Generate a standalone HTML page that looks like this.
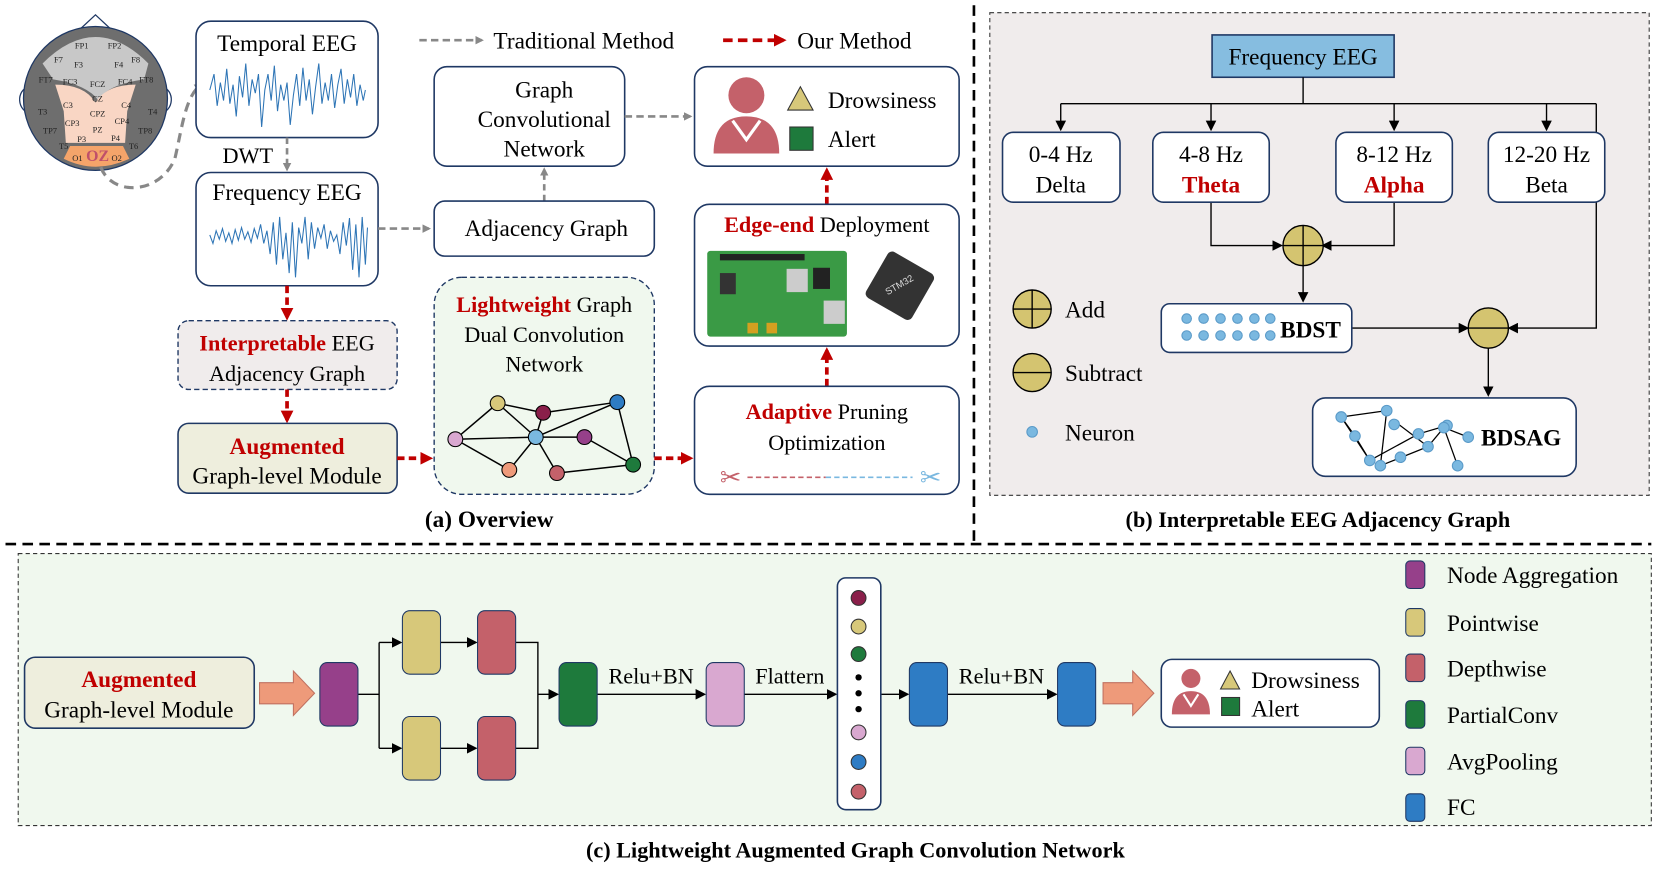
<!DOCTYPE html>
<html><head><meta charset="utf-8"><style>
html,body{margin:0;padding:0;background:#fff;}
svg{display:block;font-family:"Liberation Serif",serif;}
</style></head><body>
<svg width="1660" height="870" viewBox="0 0 1568 822" xmlns="http://www.w3.org/2000/svg">
<defs>
<marker id="ag" markerWidth="8" markerHeight="8" refX="6" refY="4" orient="auto" markerUnits="userSpaceOnUse"><path d="M0,0 L8,4 L0,8 z" fill="#888"/></marker>
<marker id="ar" markerWidth="12" markerHeight="12" refX="9" refY="6" orient="auto" markerUnits="userSpaceOnUse"><path d="M0,0 L12,6 L0,12 z" fill="#c00000"/></marker>
<marker id="ak" markerWidth="10" markerHeight="10" refX="8" refY="5" orient="auto" markerUnits="userSpaceOnUse"><path d="M0,0 L10,5 L0,10 z" fill="#000"/></marker>
</defs>
<rect width="1568" height="822" fill="#fff"/>

<!-- HEAD -->
<g stroke="#1f3864" stroke-width="1.2">
<path d="M75,28 L90,14 L105,28" fill="#fff"/>
<path d="M27,82 C15,85 15,105 30,108" fill="none"/>
<path d="M153,82 C165,85 165,105 150,108" fill="none"/>
<circle cx="90" cy="93" r="68" fill="#6e6e6e"/>
<path d="M40,60 Q90,10 140,60 L136,75 Q100,80 93,95 Q82,80 50,75 Z" fill="#c8c8c8" stroke="none"/>
<path d="M52,80 Q80,80 90,97 Q100,80 128,80 L120,105 L118,135 L62,135 L60,105 Z" fill="#f9d6c4" stroke="none"/>
<path d="M66,138 L116,138 L122,150 Q90,165 60,150 Z" fill="#f4a46a" stroke="none"/>
</g>
<g font-size="8" fill="#222" text-anchor="middle">
<text x="77" y="46">FP1</text><text x="108" y="46">FP2</text>
<text x="55" y="59">F7</text><text x="74" y="64">F3</text><text x="112" y="64">F4</text><text x="128" y="59">F8</text>
<text x="43" y="78">FT7</text><text x="66" y="80">FC3</text><text x="92" y="82">FCZ</text><text x="118" y="80">FC4</text><text x="138" y="78">FT8</text>
<text x="92" y="96">CZ</text><text x="64" y="102">C3</text><text x="119" y="102">C4</text>
<text x="40" y="108">T3</text><text x="92" y="110">CPZ</text><text x="144" y="108">T4</text>
<text x="68" y="119">CP3</text><text x="115" y="117">CP4</text><text x="92" y="125">PZ</text>
<text x="47" y="126">TP7</text><text x="137" y="126">TP8</text>
<text x="77" y="134">P3</text><text x="109" y="133">P4</text>
<text x="60" y="141">T5</text><text x="126" y="141">T6</text>
<text x="73" y="152">O1</text><text x="110" y="152">O2</text>
</g>
<text x="92" y="152" font-size="15" font-weight="bold" fill="#c0506a" text-anchor="middle">OZ</text>
<path d="M95,158 C105,185 150,185 165,150 C172,120 175,90 190,80" fill="none" stroke="#888" stroke-width="3" stroke-dasharray="9,6" marker-end="url(#ag)"/>

<!-- Legend -->
<line x1="396" y1="38" x2="455" y2="38" stroke="#888" stroke-width="2.5" stroke-dasharray="7,4" marker-end="url(#ag)"/>
<text x="466" y="46" font-size="22">Traditional Method</text>
<line x1="683" y1="38" x2="740" y2="38" stroke="#c00000" stroke-width="3.5" stroke-dasharray="9,5" marker-end="url(#ar)"/>
<text x="753" y="46" font-size="22">Our Method</text>

<!-- Temporal EEG -->
<rect x="185" y="20" width="172" height="110" rx="14" fill="#fff" stroke="#1f3864" stroke-width="1.5"/>
<text x="271" y="48" font-size="22" text-anchor="middle">Temporal EEG</text>
<polyline fill="none" stroke="#2e75b6" stroke-width="1" points="198,85 202,70 205,100 208,78 211,95 214,65 217,98 220,80 223,110 226,72 229,92 232,60 235,100 238,75 241,88 244,70 247,120 250,85 253,70 256,95 259,62 262,105 265,80 268,95 271,78 274,118 277,90 280,70 283,100 286,64 289,95 292,75 295,108 298,82 301,60 304,98 307,78 310,95 313,70 316,102 319,80 322,65 325,98 328,75 331,92 334,70 337,100 340,80 343,95 345,85"/>
<text x="210" y="154" font-size="21">DWT</text>
<line x1="271" y1="130" x2="271" y2="160" stroke="#888" stroke-width="2.5" stroke-dasharray="6,4" marker-end="url(#ag)"/>

<!-- Frequency EEG -->
<rect x="185" y="163" width="172" height="107" rx="14" fill="#fff" stroke="#1f3864" stroke-width="1.5"/>
<text x="271" y="189" font-size="22" text-anchor="middle">Frequency EEG</text>
<polyline fill="none" stroke="#2e75b6" stroke-width="1" points="198,222 201,230 204,218 207,226 210,216 213,228 216,220 219,230 222,217 225,227 228,215 231,226 234,219 237,229 240,216 243,225 246,212 249,230 252,218 255,240 258,210 261,250 264,205 267,245 270,220 273,258 276,210 279,262 282,215 285,230 288,205 291,245 294,210 297,235 300,215 303,225 306,212 309,235 312,218 315,228 318,222 321,240 324,210 327,232 330,206 333,255 336,212 339,262 342,205 345,250 347,215"/>
<line x1="357" y1="216" x2="405" y2="216" stroke="#888" stroke-width="2.5" stroke-dasharray="7,4" marker-end="url(#ag)"/>
<line x1="271" y1="270" x2="271" y2="300" stroke="#c00000" stroke-width="3.5" stroke-dasharray="7,4" marker-end="url(#ar)"/>

<!-- Interpretable -->
<rect x="168" y="303" width="207" height="65" rx="10" fill="#f0ecec" stroke="#1f3864" stroke-width="1.3" stroke-dasharray="5,3"/>
<text x="271" y="331" font-size="21" text-anchor="middle"><tspan fill="#c00000" font-weight="bold">Interpretable</tspan> EEG</text>
<text x="271" y="360" font-size="21" text-anchor="middle">Adjacency Graph</text>
<line x1="271" y1="368" x2="271" y2="397" stroke="#c00000" stroke-width="3.5" stroke-dasharray="7,4" marker-end="url(#ar)"/>

<!-- Augmented -->
<rect x="168" y="400" width="207" height="66" rx="10" fill="#eeeedd" stroke="#1f3864" stroke-width="1.5"/>
<text x="271" y="429" font-size="22" text-anchor="middle" fill="#c00000" font-weight="bold">Augmented</text>
<text x="271" y="457" font-size="22" text-anchor="middle">Graph-level Module</text>
<line x1="375" y1="433" x2="406" y2="433" stroke="#c00000" stroke-width="3.5" stroke-dasharray="7,4" marker-end="url(#ar)"/>

<!-- GCN -->
<rect x="410" y="63" width="180" height="94" rx="12" fill="#fff" stroke="#1f3864" stroke-width="1.5"/>
<text x="514" y="92" font-size="22" text-anchor="middle">Graph</text>
<text x="514" y="120" font-size="22" text-anchor="middle">Convolutional</text>
<text x="514" y="148" font-size="22" text-anchor="middle">Network</text>
<line x1="590" y1="110" x2="652" y2="110" stroke="#888" stroke-width="2.5" stroke-dasharray="7,4" marker-end="url(#ag)"/>
<line x1="514" y1="190" x2="514" y2="160" stroke="#888" stroke-width="2.5" stroke-dasharray="6,4" marker-end="url(#ag)"/>

<!-- Adjacency graph -->
<rect x="410" y="190" width="208" height="52" rx="10" fill="#fff" stroke="#1f3864" stroke-width="1.5"/>
<text x="516" y="223" font-size="22" text-anchor="middle">Adjacency Graph</text>

<!-- Lightweight -->
<rect x="410" y="262" width="208" height="205" rx="26" fill="#f0f8ee" stroke="#1f3864" stroke-width="1.3" stroke-dasharray="5,3"/>
<text x="514" y="295" font-size="21" text-anchor="middle"><tspan fill="#c00000" font-weight="bold">Lightweight</tspan> Graph</text>
<text x="514" y="323" font-size="21" text-anchor="middle">Dual Convolution</text>
<text x="514" y="351" font-size="21" text-anchor="middle">Network</text>
<g stroke="#000" stroke-width="1.4">
<line x1="470" y1="381" x2="430" y2="415"/><line x1="470" y1="381" x2="506" y2="413"/><line x1="470" y1="381" x2="513" y2="390"/>
<line x1="513" y1="390" x2="583" y2="380"/><line x1="513" y1="390" x2="506" y2="413"/>
<line x1="430" y1="415" x2="506" y2="413"/><line x1="430" y1="415" x2="481" y2="444"/>
<line x1="506" y1="413" x2="583" y2="380"/><line x1="506" y1="413" x2="552" y2="413"/><line x1="506" y1="413" x2="481" y2="444"/><line x1="506" y1="413" x2="526" y2="447"/>
<line x1="552" y1="413" x2="598" y2="439"/><line x1="583" y1="380" x2="598" y2="439"/><line x1="526" y1="447" x2="598" y2="439"/>
</g>
<g stroke="#000" stroke-width="1">
<circle cx="470" cy="381" r="7" fill="#d7c87a"/><circle cx="513" cy="390" r="7" fill="#8a1f4a"/><circle cx="583" cy="380" r="7" fill="#2e7cc4"/>
<circle cx="430" cy="415" r="7" fill="#d9a8d0"/><circle cx="506" cy="413" r="7" fill="#7ab8e0"/><circle cx="552" cy="413" r="7" fill="#96408a"/>
<circle cx="481" cy="444" r="7" fill="#ee9a7a"/><circle cx="526" cy="447" r="7" fill="#c4616a"/><circle cx="598" cy="439" r="7" fill="#1e7a3c"/>
</g>
<line x1="618" y1="433" x2="652" y2="433" stroke="#c00000" stroke-width="3.5" stroke-dasharray="7,4" marker-end="url(#ar)"/>

<!-- Output -->
<rect x="656" y="63" width="250" height="94" rx="12" fill="#fff" stroke="#1f3864" stroke-width="1.5"/>
<circle cx="705" cy="90" r="17" fill="#c4616a"/>
<path d="M674,145 Q674,110 705,110 Q736,110 736,145 Z" fill="#c4616a"/>
<path d="M692,114 L705,132 L718,114" fill="none" stroke="#fff" stroke-width="3"/>
<path d="M744,104 L756,82 L768,104 Z" fill="#d7c87a" stroke="#333"/>
<text x="782" y="102" font-size="22">Drowsiness</text>
<rect x="746" y="120" width="22" height="22" fill="#1e7a3c" stroke="#333"/>
<text x="782" y="139" font-size="22">Alert</text>
<line x1="781" y1="193" x2="781" y2="161" stroke="#c00000" stroke-width="3.5" stroke-dasharray="7,4" marker-end="url(#ar)"/>

<!-- Edge-end -->
<rect x="656" y="193" width="250" height="134" rx="14" fill="#fff" stroke="#1f3864" stroke-width="1.5"/>
<text x="781" y="219" font-size="21" text-anchor="middle"><tspan fill="#c00000" font-weight="bold">Edge-end</tspan> Deployment</text>
<rect x="668" y="237" width="132" height="81" rx="3" fill="#3a9a45"/>
<rect x="680" y="240" width="80" height="6" fill="#222"/>
<rect x="743" y="254" width="20" height="22" fill="#ccc"/><rect x="768" y="253" width="16" height="20" fill="#222"/>
<rect x="778" y="284" width="20" height="22" fill="#ccc"/><rect x="680" y="258" width="15" height="20" fill="#333"/>
<rect x="706" y="305" width="10" height="10" fill="#d4a020"/><rect x="724" y="305" width="10" height="10" fill="#d4a020"/>
<rect x="825" y="245" width="50" height="50" rx="5" fill="#333" transform="rotate(30 850 270)"/>
<text x="850" y="272" font-size="9" fill="#ddd" font-family="Liberation Sans,sans-serif" text-anchor="middle" transform="rotate(-30 850 270)">STM32</text>
<line x1="781" y1="365" x2="781" y2="331" stroke="#c00000" stroke-width="3.5" stroke-dasharray="7,4" marker-end="url(#ar)"/>

<!-- Pruning -->
<rect x="656" y="365" width="250" height="102" rx="14" fill="#fff" stroke="#1f3864" stroke-width="1.5"/>
<text x="781" y="396" font-size="21" text-anchor="middle"><tspan fill="#c00000" font-weight="bold">Adaptive</tspan> Pruning</text>
<text x="781" y="425" font-size="21" text-anchor="middle">Optimization</text>
<text x="690" y="459" font-size="24" fill="#c4616a" text-anchor="middle">✂</text>
<text x="879" y="459" font-size="24" fill="#7ab8e0" text-anchor="middle">✂</text>
<line x1="706" y1="451" x2="780" y2="451" stroke="#c4616a" stroke-width="1.5" stroke-dasharray="5,3"/>
<line x1="780" y1="451" x2="862" y2="451" stroke="#7ab8e0" stroke-width="1.5" stroke-dasharray="5,3"/>

<text x="462" y="498" font-size="22" font-weight="bold" text-anchor="middle">(a) Overview</text>

<!-- dividers -->
<line x1="920" y1="5" x2="920" y2="512" stroke="#000" stroke-width="2.5" stroke-dasharray="10,6"/>
<line x1="5" y1="514" x2="1560" y2="514" stroke="#000" stroke-width="2.5" stroke-dasharray="10,6"/>

<!-- Panel b -->
<rect x="935" y="12" width="623" height="456" fill="#f0ecec" stroke="#333" stroke-width="1" stroke-dasharray="4,3"/>
<rect x="1145" y="33" width="172" height="40" fill="#86bde0" stroke="#1f3864" stroke-width="1.5"/>
<text x="1231" y="61" font-size="22" text-anchor="middle">Frequency EEG</text>
<g stroke="#000" stroke-width="1.3" fill="none">
<path d="M1231,73 V98 M1002,98 H1508"/>
<line x1="1002" y1="98" x2="1002" y2="122" marker-end="url(#ak)"/>
<line x1="1144" y1="98" x2="1144" y2="122" marker-end="url(#ak)"/>
<line x1="1317" y1="98" x2="1317" y2="122" marker-end="url(#ak)"/>
<line x1="1461" y1="98" x2="1461" y2="122" marker-end="url(#ak)"/>
<path d="M1144,191 V232 H1210" marker-end="url(#ak)"/>
<path d="M1317,191 V232 H1250" marker-end="url(#ak)"/>
<line x1="1231" y1="251" x2="1231" y2="284" marker-end="url(#ak)"/>
<line x1="1277" y1="310" x2="1386" y2="310" marker-end="url(#ak)"/>
<path d="M1508,98 V310 H1426" marker-end="url(#ak)"/>
<line x1="1406" y1="329" x2="1406" y2="373" marker-end="url(#ak)"/>
</g>
<g stroke="#1f3864" stroke-width="1.5" fill="#fff">
<rect x="947" y="125" width="111" height="66" rx="10"/>
<rect x="1089" y="125" width="110" height="66" rx="10"/>
<rect x="1262" y="125" width="110" height="66" rx="10"/>
<rect x="1406" y="125" width="110" height="66" rx="10"/>
</g>
<g font-size="22" text-anchor="middle">
<text x="1002" y="153">0-4 Hz</text><text x="1002" y="182">Delta</text>
<text x="1144" y="153">4-8 Hz</text><text x="1144" y="182" fill="#c00000" font-weight="bold">Theta</text>
<text x="1317" y="153">8-12 Hz</text><text x="1317" y="182" fill="#c00000" font-weight="bold">Alpha</text>
<text x="1461" y="153">12-20 Hz</text><text x="1461" y="182">Beta</text>
</g>
<g stroke="#000" stroke-width="1.3" fill="#d4c470">
<circle cx="1231" cy="232" r="19"/><path d="M1212,232 H1250 M1231,213 V251" fill="none"/>
<circle cx="1406" cy="310" r="19"/><path d="M1387,310 H1425" fill="none"/>
<circle cx="975" cy="292" r="18"/><path d="M957,292 H993 M975,274 V310" fill="none"/>
<circle cx="975" cy="352" r="18"/><path d="M957,352 H993" fill="none"/>
</g>
<circle cx="975" cy="408" r="5" fill="#7ab8e0" stroke="#5a9ac8"/>
<text x="1006" y="300" font-size="22">Add</text>
<text x="1006" y="360" font-size="22">Subtract</text>
<text x="1006" y="416" font-size="22">Neuron</text>
<rect x="1097" y="287" width="180" height="46" rx="8" fill="#fff" stroke="#1f3864" stroke-width="1.5"/>
<g fill="#7ab8e0" stroke="#5a9ac8">
<circle cx="1121" cy="301" r="4.5"/><circle cx="1137" cy="301" r="4.5"/><circle cx="1153" cy="301" r="4.5"/><circle cx="1169" cy="301" r="4.5"/><circle cx="1185" cy="301" r="4.5"/><circle cx="1200" cy="301" r="4.5"/>
<circle cx="1121" cy="317" r="4.5"/><circle cx="1137" cy="317" r="4.5"/><circle cx="1153" cy="317" r="4.5"/><circle cx="1169" cy="317" r="4.5"/><circle cx="1185" cy="317" r="4.5"/><circle cx="1200" cy="317" r="4.5"/>
</g>
<text x="1238" y="319" font-size="22" font-weight="bold" text-anchor="middle">BDST</text>
<rect x="1240" y="376" width="249" height="74" rx="12" fill="#fff" stroke="#1f3864" stroke-width="1.5"/>
<g stroke="#000" stroke-width="1.2">
<line x1="1267" y1="394" x2="1310" y2="388"/><line x1="1267" y1="394" x2="1280" y2="412"/><line x1="1267" y1="394" x2="1294" y2="435"/>
<line x1="1310" y1="388" x2="1304" y2="440"/><line x1="1294" y1="435" x2="1340" y2="410"/><line x1="1340" y1="410" x2="1367" y2="402"/>
<line x1="1320" y1="400" x2="1349" y2="422"/><line x1="1349" y1="422" x2="1364" y2="404"/><line x1="1364" y1="404" x2="1377" y2="440"/><line x1="1364" y1="404" x2="1387" y2="413"/><line x1="1304" y1="440" x2="1349" y2="422"/><line x1="1280" y1="412" x2="1294" y2="435"/>
</g>
<g fill="#7ab8e0" stroke="#5a9ac8">
<circle cx="1267" cy="394" r="5"/><circle cx="1310" cy="388" r="5"/><circle cx="1280" cy="412" r="5"/><circle cx="1294" cy="435" r="5"/>
<circle cx="1317" cy="401" r="5"/><circle cx="1340" cy="410" r="5"/><circle cx="1367" cy="402" r="5"/><circle cx="1349" cy="422" r="5"/>
<circle cx="1364" cy="404" r="5"/><circle cx="1387" cy="413" r="5"/><circle cx="1304" cy="440" r="5"/><circle cx="1377" cy="440" r="5"/><circle cx="1323" cy="432" r="5"/>
</g>
<text x="1437" y="421" font-size="22" font-weight="bold" text-anchor="middle">BDSAG</text>
<text x="1245" y="498" font-size="21" font-weight="bold" text-anchor="middle">(b) Interpretable EEG Adjacency Graph</text>

<!-- Panel c -->
<rect x="17" y="523" width="1543" height="257" fill="#f0f8ee" stroke="#333" stroke-width="1" stroke-dasharray="4,3"/>
<rect x="23" y="621" width="217" height="67" rx="10" fill="#eeeedd" stroke="#1f3864" stroke-width="1.5"/>
<text x="131" y="649" font-size="22" text-anchor="middle" fill="#c00000" font-weight="bold">Augmented</text>
<text x="131" y="678" font-size="22" text-anchor="middle">Graph-level Module</text>
<path d="M245,645 H277 V634 L297,655 L277,676 V665 H245 Z" fill="#ee9a7a" stroke="#c07060"/>
<path d="M1042,645 H1070 V634 L1090,655 L1070,676 V665 H1042 Z" fill="#ee9a7a" stroke="#c07060"/>
<g stroke="#000" stroke-width="1.3" fill="none">
<path d="M338,656 H358 M358,607 V707"/>
<line x1="358" y1="607" x2="378" y2="607" marker-end="url(#ak)"/>
<line x1="358" y1="707" x2="378" y2="707" marker-end="url(#ak)"/>
<line x1="416" y1="607" x2="449" y2="607" marker-end="url(#ak)"/>
<line x1="416" y1="707" x2="449" y2="707" marker-end="url(#ak)"/>
<path d="M487,607 H508 V707 H487" />
<line x1="508" y1="656" x2="526" y2="656" marker-end="url(#ak)"/>
<line x1="564" y1="656" x2="665" y2="656" marker-end="url(#ak)"/>
<line x1="703" y1="656" x2="789" y2="656" marker-end="url(#ak)"/>
<line x1="832" y1="656" x2="857" y2="656" marker-end="url(#ak)"/>
<line x1="895" y1="656" x2="997" y2="656" marker-end="url(#ak)"/>
</g>
<g stroke="#1f3864" stroke-width="1">
<rect x="302" y="626" width="36" height="60" rx="7" fill="#96408a"/>
<rect x="380" y="577" width="36" height="60" rx="7" fill="#d7c87a"/>
<rect x="380" y="677" width="36" height="60" rx="7" fill="#d7c87a"/>
<rect x="451" y="577" width="36" height="60" rx="7" fill="#c4616a"/>
<rect x="451" y="677" width="36" height="60" rx="7" fill="#c4616a"/>
<rect x="528" y="626" width="36" height="60" rx="7" fill="#1e7a3c"/>
<rect x="667" y="626" width="36" height="60" rx="7" fill="#d9a8d0"/>
<rect x="859" y="626" width="36" height="60" rx="7" fill="#2e7cc4"/>
<rect x="999" y="626" width="36" height="60" rx="7" fill="#2e7cc4"/>
</g>
<text x="615" y="646" font-size="21" text-anchor="middle">Relu+BN</text>
<text x="746" y="646" font-size="21" text-anchor="middle">Flattern</text>
<text x="946" y="646" font-size="21" text-anchor="middle">Relu+BN</text>
<rect x="791" y="546" width="41" height="219" rx="8" fill="#fff" stroke="#1f3864" stroke-width="1.5"/>
<g stroke="#333" stroke-width="1">
<circle cx="811" cy="565" r="7" fill="#8a1f4a"/><circle cx="811" cy="592" r="7" fill="#d7c87a"/><circle cx="811" cy="618" r="7" fill="#1e7a3c"/>
<circle cx="811" cy="692" r="7" fill="#d9a8d0"/><circle cx="811" cy="720" r="7" fill="#2e7cc4"/><circle cx="811" cy="748" r="7" fill="#c4616a"/>
</g>
<circle cx="811" cy="640" r="3" fill="#000"/><circle cx="811" cy="655" r="3" fill="#000"/><circle cx="811" cy="670" r="3" fill="#000"/>
<rect x="1097" y="623" width="206" height="64" rx="10" fill="#fff" stroke="#1f3864" stroke-width="1.5"/>
<circle cx="1125" cy="641" r="9" fill="#c4616a"/>
<path d="M1107,675 Q1107,653 1125,653 Q1143,653 1143,675 Z" fill="#c4616a"/>
<path d="M1118,656 L1125,667 L1132,656" fill="none" stroke="#fff" stroke-width="2"/>
<path d="M1153,651 L1162,634 L1171,651 Z" fill="#d7c87a" stroke="#333"/>
<text x="1182" y="650" font-size="22">Drowsiness</text>
<rect x="1154" y="659" width="17" height="17" fill="#1e7a3c" stroke="#333"/>
<text x="1182" y="677" font-size="22">Alert</text>
<g stroke="#1f3864" stroke-width="1">
<rect x="1328" y="530" width="18" height="26" rx="4" fill="#96408a"/>
<rect x="1328" y="575" width="18" height="26" rx="4" fill="#d7c87a"/>
<rect x="1328" y="618" width="18" height="26" rx="4" fill="#c4616a"/>
<rect x="1328" y="662" width="18" height="26" rx="4" fill="#1e7a3c"/>
<rect x="1328" y="706" width="18" height="26" rx="4" fill="#d9a8d0"/>
<rect x="1328" y="750" width="18" height="26" rx="4" fill="#2e7cc4"/>
</g>
<g font-size="22">
<text x="1367" y="551">Node Aggregation</text>
<text x="1367" y="596">Pointwise</text>
<text x="1367" y="639">Depthwise</text>
<text x="1367" y="683">PartialConv</text>
<text x="1367" y="727">AvgPooling</text>
<text x="1367" y="770">FC</text>
</g>
<text x="808" y="810" font-size="21" font-weight="bold" text-anchor="middle">(c) Lightweight Augmented Graph Convolution Network</text>
</svg>
</body></html>
